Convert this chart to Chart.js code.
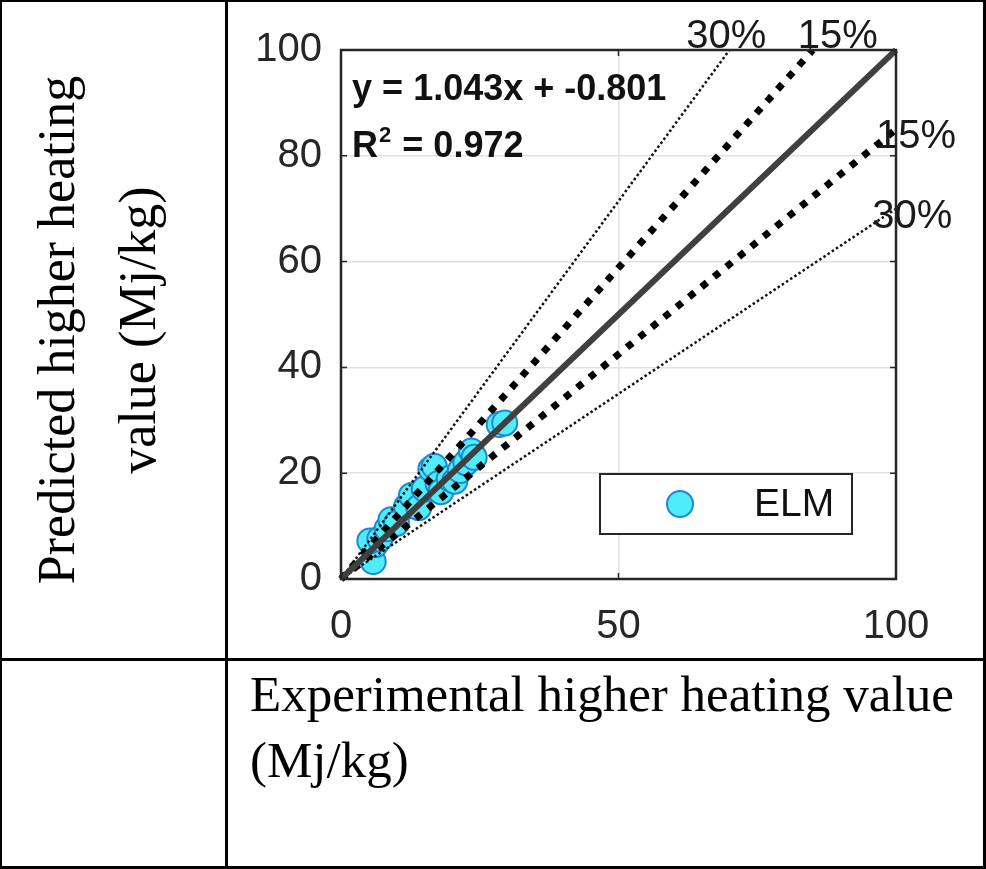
<!DOCTYPE html>
<html>
<head>
<meta charset="utf-8">
<script src="https://cdn.jsdelivr.net/npm/chart.js@4/dist/chart.umd.min.js"></script>
<style>
  html, body { margin: 0; padding: 0; background: #fff; }
  #page { position: relative; width: 986px; height: 869px; background: #fff; overflow: hidden; }
  .rule { position: absolute; background: #000; }
  .title { position: absolute; font-family: "Liberation Serif", "Times New Roman", serif; font-size: 52px; line-height: 52px; color: #000; white-space: nowrap; }
  .xt { font-size: 51px; line-height: 51px; }
  .rot { transform: translate(-50%, -50%) rotate(-90deg); }
  #chartWrap { position: absolute; left: 228px; top: 2px; width: 755px; height: 656px; }
</style>
</head>
<body>
<div id="page">
  <div id="chartWrap"><canvas id="c" width="755" height="656"></canvas></div>

  <div class="title rot" style="left:57px; top:330px;">Predicted higher heating</div>
  <div class="title rot" style="left:138px; top:330px;">value (Mj/kg)</div>
  <div class="title xt" style="left:250px; top:669px;">Experimental higher heating value</div>
  <div class="title xt" style="left:250px; top:735px;">(Mj/kg)</div>

  <div class="rule" style="left:0; top:0; width:986px; height:2px;"></div>
  <div class="rule" style="left:0; top:0; width:2px; height:869px;"></div>
  <div class="rule" style="left:983px; top:0; width:3px; height:869px;"></div>
  <div class="rule" style="left:0; top:866px; width:986px; height:3px;"></div>
  <div class="rule" style="left:225px; top:0; width:3px; height:869px;"></div>
  <div class="rule" style="left:0; top:658px; width:986px; height:3px;"></div>
</div>
<script>
// ---- data ----
const elmX = [5.8, 6.2, 5.2, 7.0, 8.3, 9.0, 10.0, 11.8, 12.7, 14.0, 15.0, 16.2, 16.8, 17.5, 18.0, 19.5, 20.5, 21.5, 22.5, 23.5, 24.0, 28.5, 29.5];
const elmY = [3.3, 6.5, 7.2, 7.6, 9.5, 11.2, 10.5, 13.7, 15.8, 13.5, 17.0, 20.8, 21.3, 18.0, 16.5, 19.0, 18.5, 20.5, 22.0, 24.2, 23.0, 29.2, 29.5];
const diagLine  = [[0, 0], [100, 100]];
const upper15   = [[0, 0], [85, 100]];
const lower15   = [[0, 0], [100, 85]];
const upper30   = [[0, 0], [70, 100]];
const lower30   = [[0, 0], [100, 70]];
const xTicks = [0, 50, 100];
const yTicks = [0, 20, 40, 60, 80, 100];
const seriesName = "ELM";
const eqText = "y = 1.043x + -0.801";
const r2Value = "0.972";
// band labels: [text, x, y] in data units (left edge, baseline)
const bandLabels = [["30%", 62.2, 100.4], ["15%", 82.3, 100.4], ["15%", 96.4, 81.5], ["30%", 95.7, 66.4]];

const toPts = arr => arr.map(p => ({x: p[0], y: p[1]}));
const elmPts = elmX.map((x, i) => ({x: x, y: elmY[i]}));

const AX = '#262626';

const decor = {
  id: 'decor',
  afterDraw(chart) {
    const ctx = chart.ctx, a = chart.chartArea;
    const xs = chart.scales.x, ys = chart.scales.y;
    ctx.save();
    // box
    ctx.strokeStyle = AX; ctx.lineWidth = 2.5;
    ctx.strokeRect(a.left, a.top, a.right - a.left, a.bottom - a.top);
    // inner ticks
    ctx.lineWidth = 1.5;
    const tl = 6;
    xTicks.forEach(v => {
      const px = xs.getPixelForValue(v);
      ctx.beginPath(); ctx.moveTo(px, a.bottom); ctx.lineTo(px, a.bottom - tl);
      ctx.moveTo(px, a.top); ctx.lineTo(px, a.top + tl); ctx.stroke();
    });
    yTicks.forEach(v => {
      const py = ys.getPixelForValue(v);
      ctx.beginPath(); ctx.moveTo(a.left, py); ctx.lineTo(a.left + tl, py);
      ctx.moveTo(a.right, py); ctx.lineTo(a.right - tl, py); ctx.stroke();
    });
    // equation and R2
    ctx.fillStyle = '#111';
    ctx.textBaseline = 'alphabetic'; ctx.textAlign = 'left';
    const bf = 'bold 36px "Liberation Sans", Arial, sans-serif';
    ctx.font = bf;
    const ex = xs.getPixelForValue(2.0);
    ctx.fillText(eqText, ex, ys.getPixelForValue(90.5));
    const rb = ys.getPixelForValue(79.8);
    ctx.fillText('R', ex, rb);
    let w = ctx.measureText('R').width;
    ctx.font = 'bold 22px "Liberation Sans", Arial, sans-serif';
    ctx.fillText('2', ex + w + 1, rb - 15);
    const w2 = ctx.measureText('2').width;
    ctx.font = bf;
    ctx.fillText(' = ' + r2Value, ex + w + w2 + 2, rb);
    // band labels
    ctx.font = '40px "Liberation Sans", Arial, sans-serif';
    ctx.fillStyle = '#1a1a1a';
    bandLabels.forEach(l => {
      ctx.fillText(l[0], xs.getPixelForValue(l[1]), ys.getPixelForValue(l[2]));
    });
    // legend
    const ds = chart.data.datasets.find(d => d.label === seriesName);
    const lw = 252, lh = 60;
    const lx = a.right - 44 - lw, ly = a.bottom - 45 - lh;
    ctx.fillStyle = '#fff';
    ctx.fillRect(lx, ly, lw, lh);
    ctx.strokeStyle = AX; ctx.lineWidth = 2;
    ctx.strokeRect(lx, ly, lw, lh);
    ctx.beginPath();
    ctx.arc(lx + 80, ly + lh / 2, 13, 0, Math.PI * 2);
    ctx.fillStyle = ds.backgroundColor; ctx.fill();
    ctx.strokeStyle = ds.borderColor; ctx.lineWidth = 2; ctx.stroke();
    ctx.fillStyle = '#111';
    ctx.font = '39px "Liberation Sans", Arial, sans-serif';
    ctx.textBaseline = 'middle';
    ctx.fillText(ds.label, lx + 154, ly + lh / 2 + 1);
    ctx.restore();
  }
};

const lineDs = (pts, width, dash, color) => ({
  label: '', data: toPts(pts), showLine: true, pointRadius: 0, pointHoverRadius: 0,
  borderColor: color, borderWidth: width, borderDash: dash, borderCapStyle: 'butt',
  fill: false, clip: false, tension: 0
});

new Chart(document.getElementById('c'), {
  type: 'scatter',
  data: {
    datasets: [
      lineDs(diagLine, 6, [], '#404040'),
      lineDs(upper15, 7, [7, 9], '#000'),
      lineDs(lower15, 7, [7, 9], '#000'),
      lineDs(upper30, 2.5, [2.5, 2.5], '#111'),
      lineDs(lower30, 2.5, [2.5, 2.5], '#111'),
      { label: seriesName, data: elmPts, pointRadius: 12.5, pointHoverRadius: 12.5,
        backgroundColor: '#50ecfa', borderColor: '#1c88d4', borderWidth: 2, showLine: false }
    ]
  },
  options: {
    responsive: false, animation: false, devicePixelRatio: 1,
    layout: { padding: { top: 48, right: 87, left: 0, bottom: 0 } },
    plugins: { legend: { display: false }, tooltip: { enabled: false } },
    scales: {
      x: {
        type: 'linear', min: 0, max: 100,
        afterBuildTicks: s => { s.ticks = xTicks.map(v => ({value: v})); },
        afterFit: s => { s.height = 79; },
        grid: { color: '#e2e2e2', lineWidth: 1.5, drawTicks: false },
        border: { display: false },
        ticks: { padding: 24, maxRotation: 0, autoSkip: false, color: AX,
                 font: { family: '"Liberation Sans", Arial, sans-serif', size: 40 } }
      },
      y: {
        type: 'linear', min: 0, max: 100,
        afterBuildTicks: s => { s.ticks = yTicks.map(v => ({value: v})); },
        afterFit: s => { s.width = 113; },
        grid: { color: '#e2e2e2', lineWidth: 1.5, drawTicks: false },
        border: { display: false },
        ticks: { padding: 19, autoSkip: false, color: AX,
                 font: { family: '"Liberation Sans", Arial, sans-serif', size: 40 } }
      }
    }
  },
  plugins: [decor]
});
</script>
</body>
</html>
